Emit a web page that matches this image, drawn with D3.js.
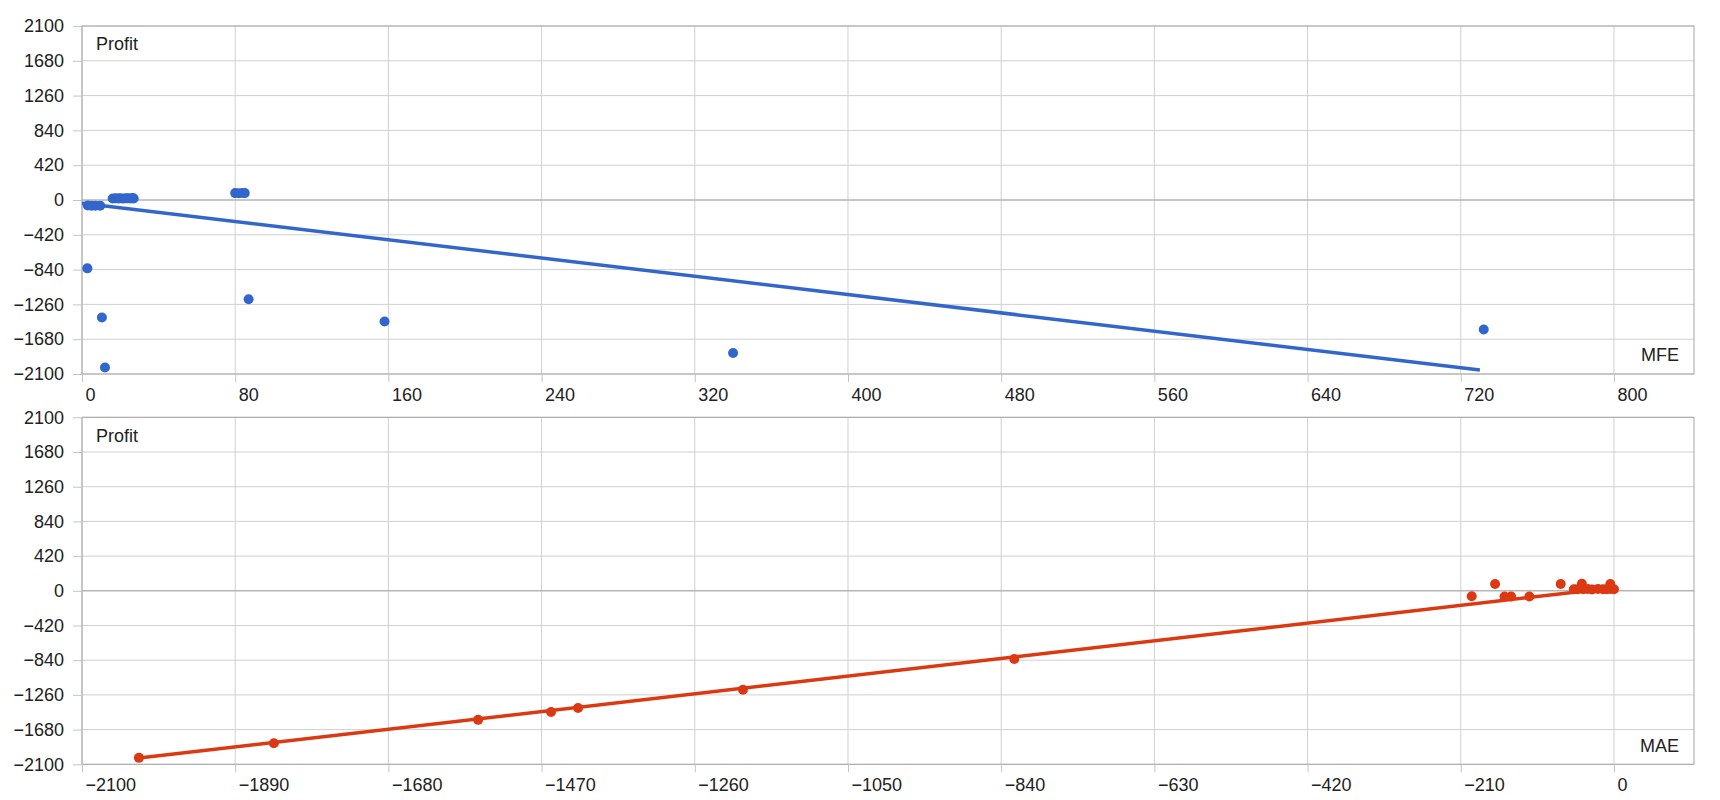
<!DOCTYPE html>
<html>
<head>
<meta charset="utf-8">
<script src="https://cdn.jsdelivr.net/npm/d3@7"></script>
<style>
  body { margin: 0; background: #fff; }
  text { font-family: "Liberation Sans", Arial, sans-serif; font-size: 18px; fill: #222; }
</style>
</head>
<body>
<svg id="chart" width="1720" height="800"></svg>
<script>
// one entry per trade
const mfe    = [2.8, 10.4, 12, 87, 158, 340, 732,
                3, 5, 7, 9.5,
                80, 82, 84, 85,
                16, 17.5, 19, 20, 21.5, 23, 24, 25.5, 26.5, 27];
const mae    = [-822, -1420, -2022, -1194, -1457, -1837, -1557,
                -195, -150, -141, -116,
                -163, -73, -44, -5,
                -55, -50, -42, -36, -30, -22, -15, -10, -5, 0];
const profit = [-825, -1418, -2022, -1197, -1466, -1846, -1562,
                -66, -70, -68, -69,
                83, 82, 84, 83,
                18, 20, 19, 22, 17, 21, 20, 18, 23, 19];

// trendlines
const trendMfe = [0, 730];
const trendMfeProfit = [-38, -2052];
const trendMae = [-2022, 0];
const trendMaeProfit = [-2024, 38];

const mfeTicks = [0, 80, 160, 240, 320, 400, 480, 560, 640, 720, 800];
const maeTicks = [-2100, -1890, -1680, -1470, -1260, -1050, -840, -630, -420, -210, 0];
const profitTicks = [-2100, -1680, -1260, -840, -420, 0, 420, 840, 1260, 1680, 2100];

const svg = d3.select("#chart");
const left = 82, right = 1694;

function drawPanel(opt) {
    const x = d3.scaleLinear().domain(opt.xDomain).range([left, right]);
    const y = d3.scaleLinear().domain([-2100, 2100]).range([opt.bottom, opt.top]);
    const g = svg.append("g");

    // gridlines
    g.selectAll(".vg").data(opt.xTicks).enter().append("line")
        .attr("x1", d => x(d)).attr("x2", d => x(d))
        .attr("y1", opt.top).attr("y2", opt.bottom)
        .attr("stroke", "#d0d0d0");
    g.selectAll(".hg").data(profitTicks).enter().append("line")
        .attr("x1", left).attr("x2", right)
        .attr("y1", d => y(d)).attr("y2", d => y(d))
        .attr("stroke", "#d0d0d0");

    // zero baseline
    g.append("line")
        .attr("x1", left).attr("x2", right)
        .attr("y1", y(0)).attr("y2", y(0))
        .attr("stroke", "#a6a6a6");

    // frame
    g.append("rect")
        .attr("x", left).attr("y", opt.top)
        .attr("width", right - left).attr("height", opt.bottom - opt.top)
        .attr("fill", "none").attr("stroke", "#a6a6a6");

    // axes
    const yAxis = g.append("g")
        .attr("transform", `translate(${left},0)`)
        .call(d3.axisLeft(y).tickValues(profitTicks).tickSize(9).tickPadding(9).tickFormat(d3.format("d")));
    const xAxis = g.append("g")
        .attr("transform", `translate(0,${opt.bottom})`)
        .call(d3.axisBottom(x).tickValues(opt.xTicks).tickSize(8).tickFormat(d3.format("d")));
    [yAxis, xAxis].forEach(a => {
        a.select(".domain").remove();
        a.selectAll("line").attr("stroke", "#c4c4c4");
        a.attr("font-size", null).attr("font-family", null);
        a.selectAll("text").attr("fill", "#222");
    });
    xAxis.selectAll("text")
        .attr("text-anchor", "start")
        .attr("x", 3).attr("y", 14);

    // points
    g.selectAll(".pt").data(opt.xs).enter().append("circle")
        .attr("cx", d => x(d))
        .attr("cy", (d, i) => y(profit[i]))
        .attr("r", 5)
        .attr("fill", opt.color);

    // trendline
    g.append("line")
        .attr("x1", x(opt.trendX[0])).attr("y1", y(opt.trendY[0]))
        .attr("x2", x(opt.trendX[1])).attr("y2", y(opt.trendY[1]))
        .attr("stroke", opt.color).attr("stroke-width", 3.5);

    // labels
    g.append("text").attr("x", 96).attr("y", opt.top + 18)
        .attr("dy", "0.35em").text("Profit");
    g.append("text").attr("x", 1679).attr("y", opt.bottom - 19)
        .attr("dy", "0.35em").attr("text-anchor", "end").text(opt.xLabel);
}

drawPanel({
    top: 26, bottom: 374,
    xDomain: [0, 841.8], xTicks: mfeTicks, xs: mfe,
    trendX: trendMfe, trendY: trendMfeProfit,
    color: "#3366cc", xLabel: "MFE"
});

drawPanel({
    top: 417.3, bottom: 764.3,
    xDomain: [-2100, 109.7], xTicks: maeTicks, xs: mae,
    trendX: trendMae, trendY: trendMaeProfit,
    color: "#dc3912", xLabel: "MAE"
});
</script>
</body>
</html>
